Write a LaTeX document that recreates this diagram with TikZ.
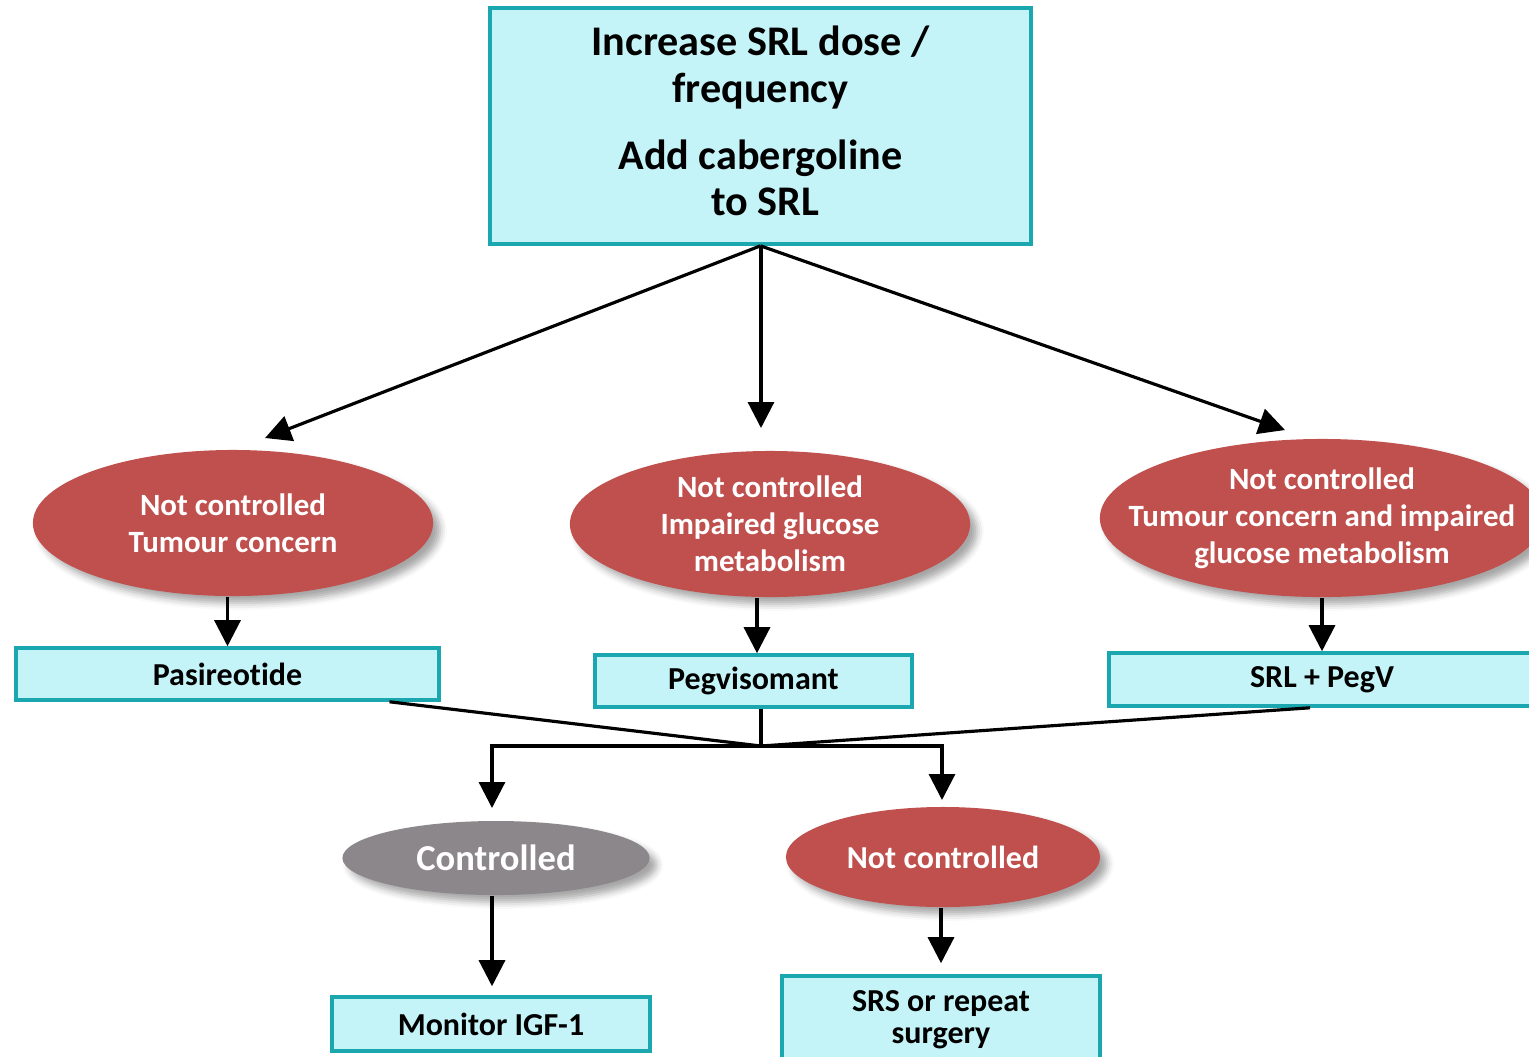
\documentclass[tikz,border=0pt]{standalone}
\usepackage{fontspec}
\setmainfont{Carlito}[Ligatures=NoCommon]
\usetikzlibrary{arrows.meta, positioning, shapes.geometric, shadows.blur, calc}

\definecolor{boxfill}{HTML}{C5F4F8}
\definecolor{boxline}{HTML}{1AA7B0}
\definecolor{notctrl}{HTML}{C0504D}
\definecolor{ctrlgrey}{HTML}{8C878B}

\begin{document}
\begin{tikzpicture}[
        x=0.01cm, y=-0.01cm,
        >={Triangle[length=0.26cm, width=0.26cm]},
        every node/.style={align=center, inner sep=0pt},
        stepbox/.style={rectangle, draw=boxline, fill=boxfill, line width=1pt,
            font=\fontsize{9.1}{11}\selectfont\bfseries},
        oval/.style={ellipse, fill=notctrl, text=white,
            blur shadow={shadow xshift=2pt, shadow yshift=-2pt, shadow opacity=35},
            font=\fontsize{8.8}{10.5}\selectfont\bfseries},
        link/.style={line width=0.9pt, ->},
        wire/.style={line width=0.9pt}
    ]
        \clip (0,0) rectangle (1529,1056);

        % Hộp trên cùng
        \node [stepbox, minimum width=5.41cm, minimum height=2.36cm, text depth=0.1cm,
            font=\fontsize{12}{13.2}\selectfont\bfseries] (top) at (760.5,126)
            {Increase SRL dose /\\ frequency\\[0.5em] Add cabergoline\\ \ to SRL};

        % Ba nhánh chưa kiểm soát
        \node [oval, minimum width=4.0cm, minimum height=1.46cm] (nc1) at (233,523)
            {Not controlled\\ Tumour concern};
        \node [oval, minimum width=4.0cm, minimum height=1.46cm] (nc2) at (770,524)
            {Not controlled\\ Impaired glucose\\ metabolism};
        \node [oval, inner xsep=-0.4cm, minimum width=4.44cm, minimum height=1.58cm] (nc3) at (1322,518)
            {Not controlled\\ Tumour concern and impaired\\ glucose metabolism};

        \node [stepbox, minimum width=4.23cm, minimum height=0.52cm] (pas) at (227.5,674) {Pasireotide};
        \node [stepbox, minimum width=3.17cm, minimum height=0.52cm] (peg) at (753.5,681) {Pegvisomant};
        \node [stepbox, minimum width=4.26cm, minimum height=0.53cm] (srl) at (1322,679.5) {SRL + PegV};

        % Kết quả
        \node [oval, fill=ctrlgrey, minimum width=3.07cm, minimum height=0.74cm,
            font=\fontsize{10.4}{12}\selectfont\bfseries] (ctrl) at (496,858) {Controlled};
        \node [oval, minimum width=3.14cm, minimum height=1.0cm,
            font=\fontsize{9.1}{11}\selectfont\bfseries] (ncb) at (943,857) {Not controlled};

        \node [stepbox, minimum width=3.18cm, minimum height=0.54cm] (mon) at (491,1024) {Monitor IGF-1};
        \node [stepbox, minimum width=3.18cm, minimum height=0.88cm,
            font=\fontsize{9.1}{9}\selectfont\bfseries] (srs) at (941,1020)
            {SRS or repeat\\ surgery};

        % Đầu mũi tên tự do
        \coordinate (a1) at (265,438);
        \coordinate (a2) at (761,428);
        \coordinate (a3) at (1285,430);
        \coordinate (hub) at (761,746);
        \coordinate (b1) at (492,808);
        \coordinate (b2) at (942,800);

        % Các liên kết
        \draw[link] (top.south) -- (a1);
        \draw[link] (top.south -| a2) -- (a2);
        \draw[link] (top.south) -- (a3);

        \draw[link] (pas.north |- nc1.south) -- (pas.north);
        \draw[link] (nc2.south -| 757,0) -- (peg.north -| 757,0);
        \draw[link] (srl.north |- nc3.south) -- (srl.north);

        \draw[wire] ($(pas.south)+(162,0)$) -- (hub);
        \draw[wire] (peg.south -| hub) -- (hub);
        \draw[wire] ($(srl.south)+(-12,0)$) -- (hub);
        \draw[link] (hub) -| (b1);
        \draw[link] (hub) -| (b2);

        \draw[link] (ctrl.south -| b1) -- ($(mon.north -| b1)+(0,-9)$);
        \draw[link] (ncb.south -| srs.north) -- ($(srs.north)+(0,-11)$);
    \end{tikzpicture}
\end{document}
